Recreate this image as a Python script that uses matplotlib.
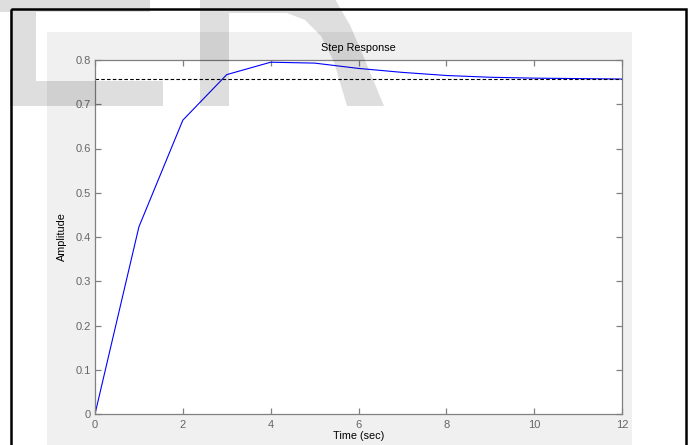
import matplotlib
matplotlib.use("Agg")
import matplotlib.pyplot as plt
from matplotlib.patches import Rectangle, Polygon

plt.rcParams['font.family'] = ['Liberation Sans', 'DejaVu Sans']

# Sampled step response (sample time 1 s)
time_s = [0, 1, 2, 3, 4, 5, 6, 7, 8, 9, 10, 11, 12]
amplitude = [0.0, 0.423, 0.664, 0.767, 0.795, 0.793, 0.781, 0.772,
             0.765, 0.761, 0.759, 0.758, 0.757]
final_value = 0.758

x_ticks = [0, 2, 4, 6, 8, 10, 12]
y_ticks = [0, 0.1, 0.2, 0.3, 0.4, 0.5, 0.6, 0.7, 0.8]
y_tick_labels = ['0', '0.1', '0.2', '0.3', '0.4', '0.5', '0.6', '0.7', '0.8']

W, H = 691, 445
fig = plt.figure(figsize=(W / 100, H / 100), dpi=100)
fig.patch.set_facecolor('white')

# Background layer: grey figure panel and black frame (pixel coordinates)
bg = fig.add_axes([0, 0, 1, 1], zorder=-5)
bg.set_xlim(0, W)
bg.set_ylim(H, 0)
bg.axis('off')
bg.add_patch(Rectangle((47, 32), 585, 450, facecolor='#f0f0f0', edgecolor='none'))
bg.add_patch(Rectangle((11, 8.5), 675, 460, facecolor='none', edgecolor='black', linewidth=1.8))

# Main plot
ax = fig.add_axes([95 / W, 1 - 414 / H, 527 / W, 354 / H], zorder=1)
ax.set_facecolor('white')
ax.plot(time_s, amplitude, color='#0000ff', linewidth=0.8)
ax.axhline(final_value, color='black', linewidth=0.8, linestyle=(0, (3.2, 2.0)))
ax.set_xlim(0, 12)
ax.set_ylim(0, 0.8)
ax.set_xticks(x_ticks)
ax.set_yticks(y_ticks)
ax.set_yticklabels(y_tick_labels)
for s in ax.spines.values():
    s.set_color('#808080')
    s.set_linewidth(0.9)
ax.tick_params(direction='in', top=True, right=True, length=4.5, width=0.9,
               color='#808080', labelcolor='#666666', labelsize=8)
ax.tick_params(axis='x', pad=4.5)
ax.tick_params(axis='y', pad=3)
ax.set_title('Step Response', fontsize=7.8, pad=6.5)
ax.set_ylabel('Amplitude', fontsize=7.8)
ax.yaxis.set_label_coords(-0.053, 0.5)
ax.set_xlabel('Time (sec)', fontsize=7.8)
ax.xaxis.set_label_coords(0.5, -0.048)

# Translucent "ER" watermark over everything (pixel coordinates)
wm = fig.add_axes([0, 0, 1, 1], zorder=10)
wm.set_xlim(0, W)
wm.set_ylim(H, 0)
wm.axis('off')
wm.patch.set_alpha(0)
letter_e = [(0, -5), (150, -5), (150, 11.5), (36, 11.5), (36, 81), (163, 81),
            (163, 106), (10, 106), (10, 11.5), (0, 11.5)]
letter_r = [(200, -5), (333, -5), (340, 8), (350, 25), (365, 60), (384, 106),
            (347, 106), (334, 62), (321, 36), (305, 20), (287, 13), (229, 13),
            (229, 106), (200, 106)]
for shape in (letter_e, letter_r):
    wm.add_patch(Polygon(shape, closed=True, facecolor='black', alpha=0.13,
                         edgecolor='none'))

fig.savefig('out.png', dpi=100)
